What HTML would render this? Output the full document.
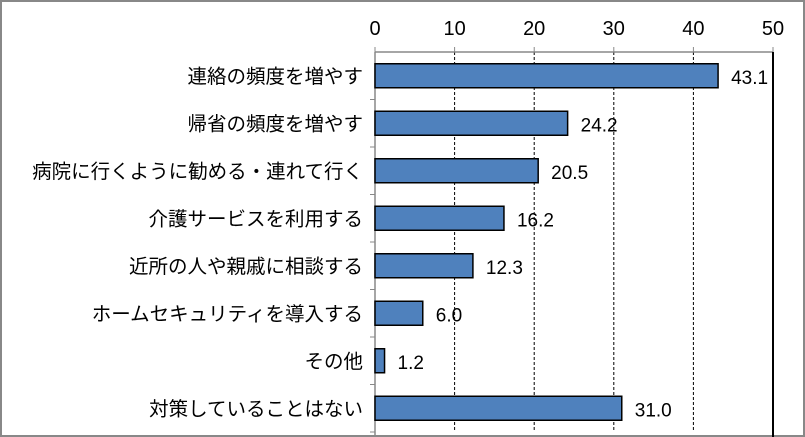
<!DOCTYPE html>
<html><head><meta charset="utf-8"><style>
body{margin:0;background:#fff}
svg{display:block;font-family:"Liberation Sans","Noto Sans CJK JP",sans-serif}
</style></head><body>
<svg id="c" width="805" height="437">
<rect x="1" y="1" width="803" height="435" fill="#fff" stroke="#888" stroke-width="2"/>
</svg>
<script>
const categories=["連絡の頻度を増やす","帰省の頻度を増やす","病院に行くように勧める・連れて行く","介護サービスを利用する","近所の人や親戚に相談する","ホームセキュリティを導入する","その他","対策していることはない"];
const values=[43.1,24.2,20.5,16.2,12.3,6.0,1.2,31.0];
const ticks=[0,10,20,30,40,50];
const svg=document.getElementById('c');const NS='http://www.w3.org/2000/svg';
const x0=375,x1=773,yTop=52,yBot=432,max=50;
const xs=v=>x0+(v/max)*(x1-x0);
const band=(yBot-yTop)/categories.length;
function mk(t,a,name){const e=document.createElementNS(NS,t);for(const k in a)e.setAttribute(k,a[k]);


svg.appendChild(e);return e;}
ticks.forEach(t=>{const x=xs(t);
if(t>0&&t<max)mk('line',{x1:x,y1:yTop,x2:x,y2:yBot,stroke:'#000','stroke-dasharray':'3,2','stroke-width':1},'gridline');
mk('line',{x1:x,y1:yTop-5,x2:x,y2:yTop,stroke:'#888','stroke-width':1},'x-tick');
const tx=mk('text',{x:x,y:yTop-17,'text-anchor':'middle','font-size':20,fill:'#000'},'x-tick-label');tx.textContent=t;});
mk('line',{x1:x0,y1:yTop,x2:x1,y2:yTop,stroke:'#888','stroke-width':1.5},'x-axis');
mk('line',{x1:x1,y1:yTop,x2:x1,y2:yBot+5,stroke:'#000','stroke-width':2},'right-border-line');
mk('line',{x1:x0,y1:yTop,x2:x0,y2:yBot+5,stroke:'#888','stroke-width':1.5},'y-axis');
categories.forEach((c,i)=>{const yc=yTop+band*(i+0.5);
mk('line',{x1:x0-5,y1:yTop+band*(i+1),x2:x0,y2:yTop+band*(i+1),stroke:'#888','stroke-width':1},'y-tick');
mk('rect',{x:x0,y:yc-12,width:xs(values[i])-x0,height:24,fill:'#4f81bd',stroke:'#000','stroke-width':1.5},'bar-'+i);
const l=mk('text',{x:x0-12,y:yc+7,'text-anchor':'end','font-size':19.5,fill:'#000'},'category-label');l.textContent=c;
const v=mk('text',{x:xs(values[i])+13,y:yc+8,'font-size':19,fill:'#000'},'value-label');v.textContent=values[i].toFixed(1);});
</script>
</body></html>
